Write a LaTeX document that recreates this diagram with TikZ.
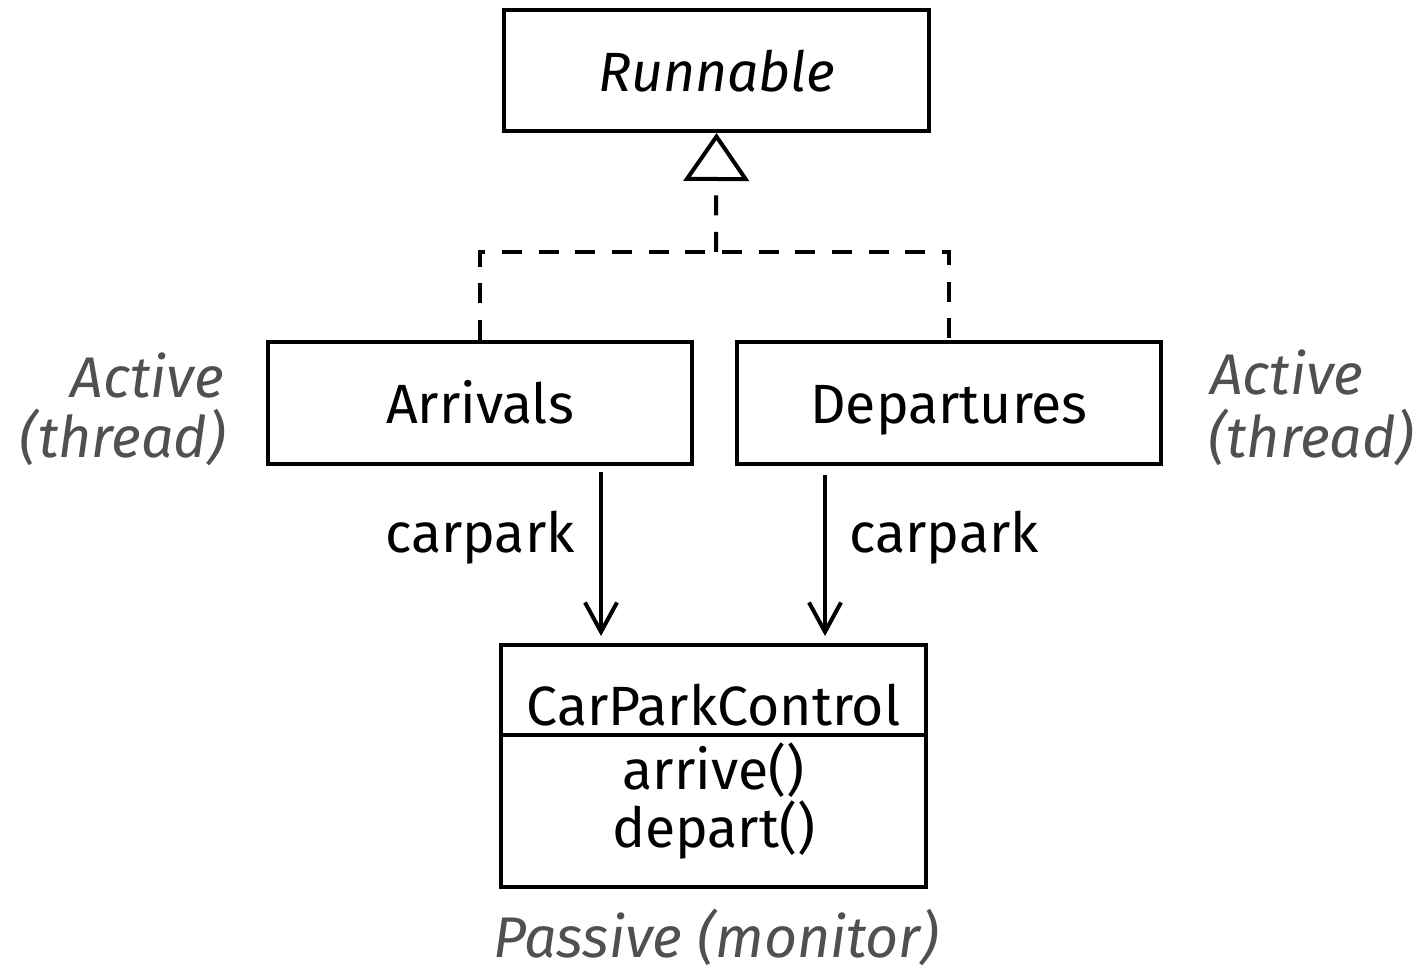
\documentclass[tikz,border=0pt]{standalone}
\usepackage{fontspec}
\setmainfont{Fira Sans}
\usetikzlibrary{arrows.meta,calc}
\definecolor{notegray}{HTML}{505050}
\begin{document}
\begin{tikzpicture}[x=0.75pt,y=-0.75pt,
  classbox/.style={draw,line width=3pt,rectangle,inner sep=0pt,
    text height=31pt,text depth=0pt,
    font=\fontsize{41.5}{50}\selectfont},
  lbl/.style={inner sep=0pt,font=\fontsize{41.5}{50}\selectfont},
  note/.style={inner sep=0pt,text=notegray,font=\fontsize{43}{52}\selectfont\itshape},
  realize/.style={line width=3pt,dash pattern=on 15pt off 12.5pt},
  assoc/.style={line width=3pt,-{Straight Barb[length=22pt,width=24pt,line width=3pt]}},
  inherit/.style={line width=3pt,-{Triangle[open,length=36pt,width=49pt,line width=3pt]}}]
\useasboundingbox (0,0) rectangle (1425,973);

% classes
\node[classbox,minimum width=318.75pt,minimum height=90.75pt] (run) at (716.5,70.5) {\itshape Runnable};
\node[classbox,minimum width=318pt,minimum height=91.5pt] (arr) at (480,403) {Arrivals};
\node[classbox,minimum width=318pt,minimum height=91.5pt] (dep) at (949,403) {Departures};
\node[draw,line width=3pt,rectangle,inner sep=0pt,minimum width=318.75pt,minimum height=181.5pt] (ctl) at (713.5,766) {};
\draw[line width=3pt] ($(ctl.north west)+(0,92)$) coordinate (divl) -- ($(ctl.north east)+(0,92)$) coordinate (divr);
\node[lbl] (ctlname) at (713.5,705) {CarParkControl};
\node[lbl] (op1) at (713.5,770) {arrive()};
\node[lbl] (op2) at (713.5,830) {depart()};

% realization of Runnable
\coordinate (join) at (716,252);
\draw[realize] (arr.north) |- (join) -| (dep.north);
\draw[realize,inherit] (join) -- (run.south);

% associations
\draw[assoc] ($(arr.south)+(121,6)$) -- ($(ctl.north)+(-112.5,-7)$);
\draw[assoc] ($(dep.south)+(-124,9)$) -- ($(ctl.north)+(111.5,-7)$);
\node[lbl] (c1) at (480,538) {carpark};
\node[lbl] (c2) at (944,538) {carpark};

% notes
\node[note,anchor=east] (na1) at (224,375) {Active};
\node[note,anchor=east] (na2) at (226,437) {(thread)};
\node[note,anchor=west] (nb1) at (1210,372) {Active};
\node[note,anchor=west] (nb2) at (1208,437) {(thread)};
\node[note] (np) at (716,937) {Passive (monitor)};
\end{tikzpicture}
\end{document}
